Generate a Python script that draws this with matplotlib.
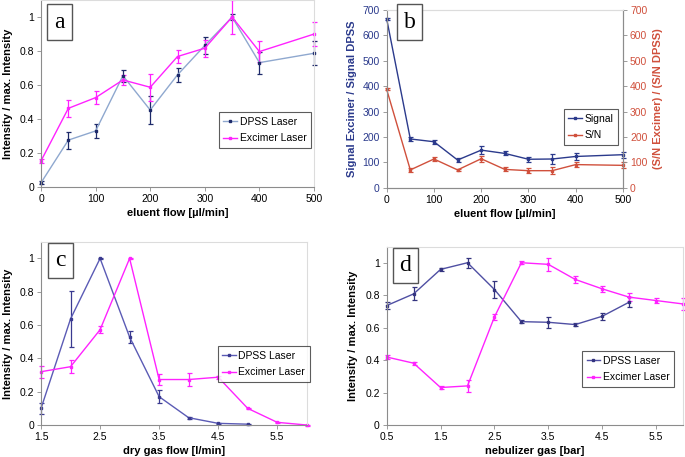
"""Four-panel laser comparison figure (eluent flow, dry gas, nebulizer gas)."""

import matplotlib

matplotlib.use("Agg")
import matplotlib.pyplot as plt  # noqa: E402
from matplotlib.lines import Line2D  # noqa: E402
from matplotlib.patches import Rectangle  # noqa: E402

plt.rcParams["font.family"] = ["Liberation Sans", "DejaVu Sans"]

# panel a: normalised intensity vs eluent flow
flow = [0, 50, 100, 150, 200, 250, 300, 350, 400, 500]
a_dpss = [0.025, 0.276, 0.33, 0.655, 0.453, 0.66, 0.833, 1.0, 0.732, 0.787]
a_dpss_err = [0.01, 0.05, 0.04, 0.035, 0.08, 0.04, 0.05, 0.02, 0.065, 0.07]
a_exc = [0.154, 0.463, 0.526, 0.63, 0.587, 0.768, 0.817, 1.0, 0.797, 0.9]
a_exc_err = [0.01, 0.05, 0.04, 0.03, 0.08, 0.04, 0.05, 0.1, 0.06, 0.07]

# panel b: excimer / DPSS ratios vs eluent flow
b_signal = [665, 192, 181, 109, 148, 135, 112, 113, 123, 130]
b_signal_err = [4, 8, 8, 6, 15, 8, 10, 20, 12, 12]
b_sn = [387, 70, 113, 70, 114, 72, 67, 67, 91, 88]
b_sn_err = [4, 8, 7, 5, 12, 8, 10, 15, 10, 12]

# panel c: dry gas flow
dry_dpss_x = [1.5, 2, 2.5, 3, 3.5, 4, 4.5, 5]
c_dpss = [0.1, 0.637, 1.0, 0.528, 0.17, 0.044, 0.01, 0.005]
c_dpss_err = [0.035, 0.17, 0.005, 0.035, 0.04, 0.005, 0.005, 0.003]
dry_exc_x = [1.5, 2, 2.5, 3, 3.5, 4, 4.5, 5, 5.5, 6]
c_exc = [0.32, 0.35, 0.572, 1.0, 0.273, 0.273, 0.287, 0.1, 0.016, 0.0]
c_exc_err = [0.035, 0.04, 0.02, 0.005, 0.035, 0.04, 0.01, 0.005, 0.003, 0.003]

# panel d: nebulizer gas
neb_dpss_x = [0.5, 1, 1.5, 2, 2.5, 3, 3.5, 4, 4.5, 5]
d_dpss = [0.736, 0.808, 0.959, 1.0, 0.835, 0.637, 0.633, 0.619, 0.67, 0.757]
d_dpss_err = [0.02, 0.04, 0.01, 0.03, 0.05, 0.01, 0.035, 0.01, 0.02, 0.03]
neb_exc_x = [0.5, 1, 1.5, 2, 2.5, 3, 3.5, 4, 4.5, 5, 5.5, 6]
d_exc = [0.419, 0.381, 0.231, 0.241, 0.666, 1.0, 0.99, 0.897, 0.839, 0.788, 0.767, 0.746]
d_exc_err = [0.015, 0.01, 0.01, 0.035, 0.02, 0.01, 0.04, 0.02, 0.02, 0.025, 0.015, 0.035]

MAGENTA = "#FF22FF"
NAVY = "#2B3A8C"
RED = "#D0503C"
YLABEL = "Intensity / max. Intensity"
LABEL_KW = dict(fontsize=8, fontweight="bold")
TICK_FS = 7.5
UNIT_TICKS = [0, 0.2, 0.4, 0.6, 0.8, 1]
UNIT_LABELS = ["0", "0.2", "0.4", "0.6", "0.8", "1"]


def style(ax, right_axis=False):
    for s in ("left", "bottom"):
        ax.spines[s].set_color("#8C8C8C")
    for s in ("top", "right"):
        ax.spines[s].set_color("#DCDCDC")
    if right_axis:
        ax.spines["right"].set_color("#8C8C8C")
    ax.tick_params(length=3, width=0.6, color="#8C8C8C", labelsize=TICK_FS, pad=2)


def series(ax, x, y, err, line, marker):
    cont = ax.errorbar(x, y, yerr=err, color=line, lw=1.0, marker="s", ms=1.8,
                       mfc=marker, mec=marker, ecolor=marker, elinewidth=0.9,
                       capsize=1.8, capthick=0.9)
    for art in cont.get_children():
        art.set_clip_on(False)
    return Line2D([], [], color=line, lw=1.0, marker="s", ms=1.8,
                  mfc=marker, mec=marker)


def letter(fig, x0, y0, w, h, s):
    # boxed panel letter, given in figure pixels from the top-left
    W, H = 685, 457
    fig.patches.append(Rectangle((x0 / W, 1 - (y0 + h) / H), w / W, h / H,
                                 transform=fig.transFigure, fc="white",
                                 ec="#555555", lw=1.0, zorder=5))
    fig.text((x0 + w / 2) / W, 1 - (y0 + h / 2) / H, s, ha="center", va="center",
             family="Liberation Serif", fontsize=17, zorder=6)


def legend(ax, handles, labels, anchor):
    lg = ax.legend(handles, labels, loc="lower right", bbox_to_anchor=anchor,
                   borderaxespad=0, fontsize=7.5, frameon=True, fancybox=False,
                   handlelength=1.3, borderpad=0.45, labelspacing=0.6,
                   handletextpad=0.25)
    lg.get_frame().set_edgecolor("#333333")
    lg.get_frame().set_linewidth(0.8)


fig = plt.figure(figsize=(6.85, 4.57), dpi=100)

# a
ax = fig.add_axes([0.0599, 0.5908, 0.3985, 0.409])
h1 = series(ax, flow, a_dpss, a_dpss_err, "#8FA8CF", "#1E2A6A")
h2 = series(ax, flow, a_exc, a_exc_err, MAGENTA, MAGENTA)
ax.set_xlim(0, 500)
ax.set_ylim(0, 1.1)
ax.set_xticks([0, 100, 200, 300, 400, 500])
ax.set_yticks(UNIT_TICKS)
ax.set_yticklabels(UNIT_LABELS)
ax.set_xlabel("eluent flow [µl/min]", labelpad=3, **LABEL_KW)
ax.set_ylabel(YLABEL, labelpad=5, **LABEL_KW)
style(ax)
legend(ax, [h1, h2], ["DPSS Laser", "Excimer Laser"], (0.989, 0.209))

# b
ax = fig.add_axes([0.5645, 0.5893, 0.345, 0.3888])
h1 = series(ax, flow, b_signal, b_signal_err, NAVY, NAVY)
h2 = series(ax, flow, b_sn, b_sn_err, RED, RED)
ax.set_xlim(0, 500)
ax.set_ylim(0, 700)
ax.set_xticks([0, 100, 200, 300, 400, 500])
ax.set_yticks(range(0, 701, 100))
ax.set_xlabel("eluent flow [µl/min]", labelpad=3, **LABEL_KW)
ax.set_ylabel("Signal Excimer / Signal DPSS", color=NAVY, labelpad=4, **LABEL_KW)
style(ax, right_axis=True)
ax.tick_params(axis="y", labelcolor=NAVY)
ax2 = ax.twinx()
ax2.set_ylim(0, 700)
ax2.set_yticks(range(0, 701, 100))
ax2.set_ylabel("(S/N Excimer) / (S/N DPSS)", color=RED, labelpad=4, **LABEL_KW)
style(ax2, right_axis=True)
ax2.tick_params(axis="y", labelcolor=RED)
ax2.spines["left"].set_visible(False)
legend(ax2, [h1, h2], ["Signal", "S/N"], (0.979, 0.24))

# c
ax = fig.add_axes([0.0599, 0.07, 0.3879, 0.401])
h1 = series(ax, dry_dpss_x, c_dpss, c_dpss_err, "#5B5BB5", "#3A3A90")
h2 = series(ax, dry_exc_x, c_exc, c_exc_err, MAGENTA, MAGENTA)
ax.set_xlim(1.5, 6)
ax.set_ylim(0, 1.1)
ax.set_xticks([1.5, 2.5, 3.5, 4.5, 5.5])
ax.set_yticks(UNIT_TICKS)
ax.set_yticklabels(UNIT_LABELS)
ax.set_xlabel("dry gas flow [l/min]", labelpad=3, **LABEL_KW)
ax.set_ylabel(YLABEL, labelpad=5, **LABEL_KW)
style(ax)
legend(ax, [h1, h2], ["DPSS Laser", "Excimer Laser"], (1.012, 0.235))

# d
ax = fig.add_axes([0.5645, 0.07, 0.4326, 0.3906])
h1 = series(ax, neb_dpss_x, d_dpss, d_dpss_err, "#4F4FA3", "#33337F")
h2 = series(ax, neb_exc_x, d_exc, d_exc_err, MAGENTA, MAGENTA)
ax.set_xlim(0.5, 6)
ax.set_ylim(0, 1.1)
ax.set_xticks([0.5, 1.5, 2.5, 3.5, 4.5, 5.5])
ax.set_yticks(UNIT_TICKS)
ax.set_yticklabels(UNIT_LABELS)
ax.set_xlabel("nebulizer gas [bar]", labelpad=3, **LABEL_KW)
ax.set_ylabel(YLABEL, labelpad=5, **LABEL_KW)
style(ax)
legend(ax, [h1, h2], ["DPSS Laser", "Excimer Laser"], (0.97, 0.213))

letter(fig, 47, 4, 25, 36, "a")
letter(fig, 397, 4, 25, 36, "b")
letter(fig, 48, 243, 25, 35, "c")
letter(fig, 393, 248, 25, 35, "d")

fig.savefig("out.png", dpi=100)
